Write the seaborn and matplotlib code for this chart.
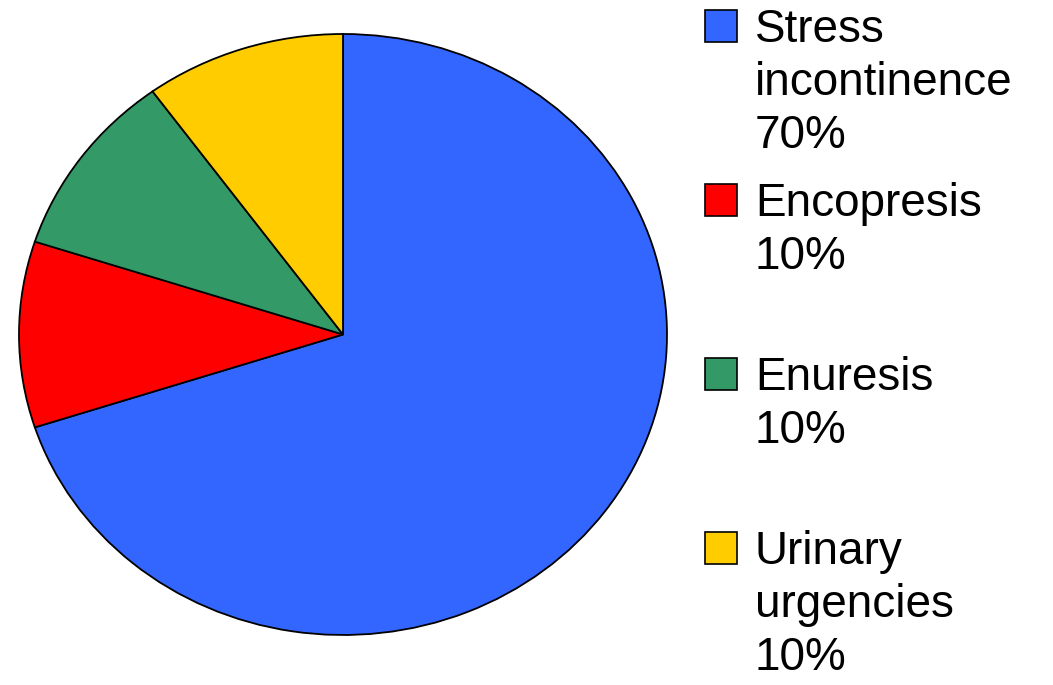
import matplotlib
matplotlib.use("Agg")
import matplotlib.pyplot as plt
from matplotlib.patches import Rectangle
import seaborn as sns

# Data
categories = ["Stress\nincontinence", "Encopresis", "Enuresis", "Urinary\nurgencies"]
shares = [70, 10, 10, 10]
colors = ["#3366FF", "#FF0000", "#339966", "#FFCC00"]

# Style
sns.set_theme(style="white")
plt.rcParams["font.family"] = ["Liberation Sans", "DejaVu Sans"]

W, H = 1053, 685
fig = plt.figure(figsize=(W / 100, H / 100), dpi=100)

# Pie is drawn in a stretched box (slightly wider than tall, like the reference)
ax = fig.add_axes([19 / W, 1 - 635 / H, 648 / W, 601 / H])
ax.pie(shares, colors=colors, startangle=90, counterclock=False, radius=1,
       wedgeprops=dict(edgecolor="black", linewidth=1.3))
ax.set_aspect("auto")
ax.set_xlim(-1, 1)
ax.set_ylim(-1, 1)
ax.axis("off")

# Legend, built by hand so the square sits at the first text line
item_step = 174   # px between items
line_step = 53    # px between text lines
first_base = 42   # px from top, baseline of first line
sq = 32
for i, (cat, val, col) in enumerate(zip(categories, shares, colors)):
    base = first_base + i * item_step
    fig.patches.append(Rectangle((705 / W, 1 - base / H), sq / W, sq / H,
                                 transform=fig.transFigure, facecolor=col,
                                 edgecolor="black", linewidth=1.2))
    lines = cat.split("\n") + [f"{val}%"]
    for j, line in enumerate(lines):
        fig.text(755 / W, 1 - (base + j * line_step) / H, line,
                 fontsize=33, va="baseline", ha="left", color="black")

fig.savefig("out.png", dpi=100, facecolor="white")
